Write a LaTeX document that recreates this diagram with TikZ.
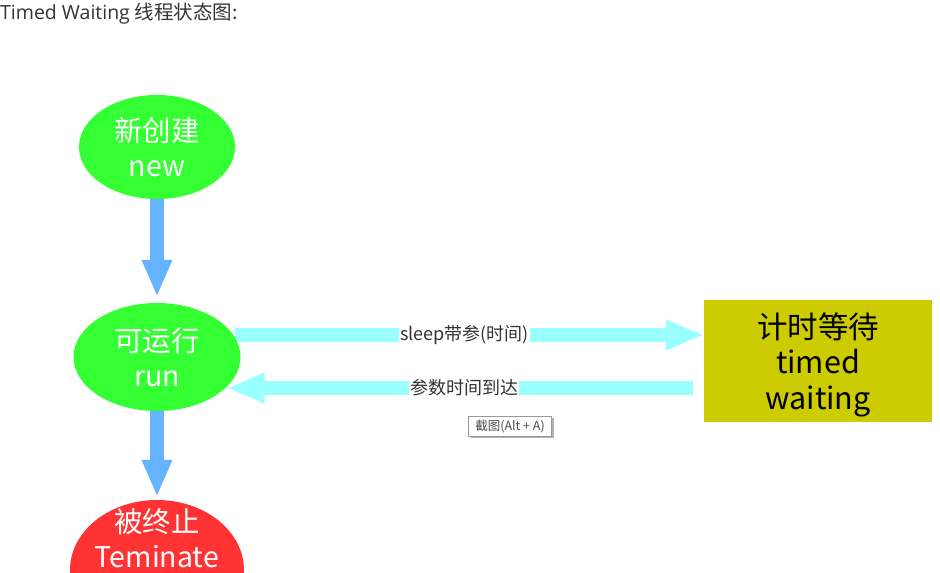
\documentclass[tikz,border=0pt]{standalone}
\usepackage{fontspec}
\setmainfont{Open Sans}
\newfontfamily\cjk{Noto Sans CJK SC}
\newfontfamily\osans{Open Sans}
\usetikzlibrary{arrows.meta,shapes.geometric,calc,shadows}
\pgfdeclarelayer{bg}
\pgfsetlayers{bg,main}
\definecolor{sgreen}{HTML}{33FF33}
\definecolor{sred}{HTML}{FF3333}
\definecolor{sblue}{HTML}{66B3FF}
\definecolor{scyan}{HTML}{99FFFF}
\definecolor{solive}{HTML}{CCCC00}
\definecolor{txtgray}{HTML}{333333}
\tikzset{
  stateell/.style={ellipse, inner sep=0pt, text=white, font=\cjk\fontsize{28.5}{35}\selectfont, align=center},
  bluearrow/.style={draw=sblue, line width=14pt, -{Triangle[length=37pt,width=28pt]}},
  cyanarrow/.style={draw=scyan, line width=14pt, -{Triangle[length=38pt,width=28pt]}},
  arrlabel/.style={fill=white, inner xsep=1pt, inner ysep=2pt, text=txtgray, font=\cjk\fontsize{18}{20}\selectfont},
  waitbox/.style={rectangle, fill=solive, minimum width=228pt, minimum height=122pt, inner sep=0pt, align=center, font=\cjk\fontsize{30.5}{35.5}\selectfont},
  tipbox/.style={rectangle, draw=gray!80, fill=white, minimum width=83pt, minimum height=20pt, inner sep=0pt, font=\cjk\fontsize{12.5}{14}\selectfont, text=black!70, drop shadow={shadow xshift=2pt, shadow yshift=-2pt, fill=black!30, opacity=1}},
}
\begin{document}
\begin{tikzpicture}[x=1pt,y=-1pt]
\useasboundingbox (0,0) rectangle (940,573);
\clip (0,0) rectangle (940,573);
\node[anchor=west, inner sep=0pt, text=txtgray, font=\fontsize{19.5}{22}\selectfont] (title) at (0,14) {{\osans Timed Waiting }{\cjk 线程状态图:}};
\node[stateell, fill=sgreen, minimum width=156pt, minimum height=104pt] (new) at (157,147) {新创建\\new};
\node[stateell, fill=sgreen, minimum width=167pt, minimum height=108pt] (run) at (157,357) {可运行\\run};
\node[ellipse, fill=sred, minimum width=174pt, minimum height=140pt, inner sep=0pt] (term) at (157,570) {};
\node[stateell, anchor=center] (termtext) at ([yshift=32pt]term.center) {被终止\\Teminate};
\node[waitbox] (tw) at (818,361) {\rule{0pt}{33.5pt}计时等待\\timed\\waiting};
\begin{pgfonlayer}{bg}
\draw[bluearrow] (new.south) -- ([yshift=6pt]run.north);
\draw[bluearrow] (run.south) -- ([yshift=3pt]term.north);
\draw[cyanarrow] ([xshift=-6pt,yshift=22pt]run.east) -- node[arrlabel, pos=0.49] (l1) {sleep带参(时间)} ([yshift=26pt]tw.west);
\draw[cyanarrow] ([xshift=-11pt,yshift=-27pt]tw.west) -- node[arrlabel, pos=0.49] (l2) {参数时间到达} ([xshift=-14pt,yshift=-31pt]run.east);
\end{pgfonlayer}
\node[tipbox] (tip) at (510,426) {截图(Alt + A)};
\end{tikzpicture}
\end{document}
